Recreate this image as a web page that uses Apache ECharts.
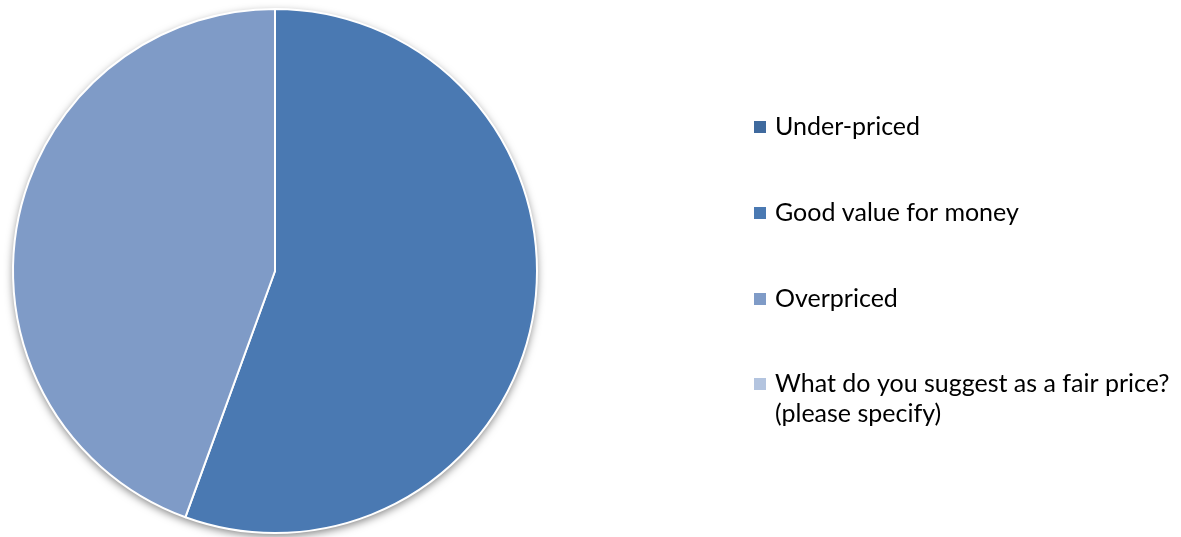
<!DOCTYPE html>
<html>
<head>
<meta charset="utf-8">
<style>
  html, body { margin: 0; padding: 0; background: #ffffff; }
  #chart { width: 1181px; height: 537px; }
</style>
<script src="https://cdn.jsdelivr.net/npm/echarts@6/dist/echarts.min.js"></script>
</head>
<body>
<div id="chart"></div>
<script>
// Survey answers: how respondents rate the price
const categories = [
  'Under-priced',
  'Good value for money',
  'Overpriced',
  'What do you suggest as a fair price?\n(please specify)'
];
const responses = [0, 5, 4, 0];
const sliceColors = ['#3F6A9E', '#4A79B2', '#7F9BC7', '#B3C4DF'];

const chart = echarts.init(document.getElementById('chart'));

const center = [275, 271];
const radius = 262;

const legendBase = {
  orient: 'vertical',
  left: 749,
  icon: 'rect',
  itemWidth: 12,
  itemHeight: 12,
  itemGap: 56,
  selectedMode: false,
  itemStyle: { borderWidth: 0 },
  textStyle: {
    fontFamily: 'Lato',
    fontSize: 25,
    color: '#000000',
    lineHeight: 30,
    padding: [0, 0, 0, 4]
  }
};

chart.setOption({
  animation: false,
  color: sliceColors,
  legend: [
    Object.assign({}, legendBase, { top: 107, data: categories.slice(0, 3) }),
    Object.assign({}, legendBase, {
      top: 334,
      data: categories.slice(3),
      // a blank leading line keeps the marker level with the first text line
      formatter: name => ' \n' + name
    })
  ],
  series: [
    {
      // backing disc that casts the soft shadow under the pie
      type: 'pie',
      silent: true,
      center: center,
      radius: radius,
      label: { show: false },
      labelLine: { show: false },
      itemStyle: {
        color: '#ffffff',
        shadowColor: 'rgba(0,0,0,0.5)',
        shadowBlur: 8,
        shadowOffsetY: 3
      },
      data: [{ name: '', value: 1 }]
    },
    {
      type: 'pie',
      center: center,
      radius: radius,
      startAngle: 90,
      clockwise: true,
      silent: true,
      label: { show: false },
      labelLine: { show: false },
      itemStyle: {
        borderColor: '#ffffff',
        borderWidth: 2
      },
      data: categories.map((name, i) => ({
        name: name,
        value: responses[i],
        itemStyle: { color: sliceColors[i] }
      }))
    }
  ]
});
</script>
</body>
</html>
